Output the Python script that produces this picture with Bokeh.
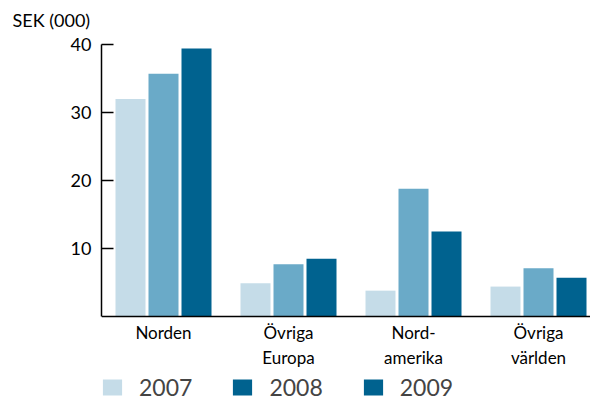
from bokeh.plotting import figure
from bokeh.models import (ColumnDataSource, Range1d, FixedTicker, Legend, LegendItem, Title)
from bokeh.embed import file_html
from bokeh.resources import INLINE

categories = ["Norden", "Övriga\nEuropa", "Nord-\namerika", "Övriga\nvärlden"]
years = ["2007", "2008", "2009"]
v2007 = [32.0, 4.9, 3.8, 4.4]
v2008 = [35.7, 7.7, 18.8, 7.1]
v2009 = [39.4, 8.5, 12.5, 5.7]
colors = ["#c5dce8", "#6aaac8", "#00628f"]
y_ticks = [10, 20, 30, 40]

FONT = "Lato"
groups = list(range(len(categories)))
offsets = [-0.264, 0.0, 0.264]

p = figure(frame_width=489, frame_height=357, output_backend="svg", toolbar_location=None,
           x_range=Range1d(-0.496, 3.416), y_range=Range1d(-12.5, 40),
           min_border_left=101, min_border_right=0, min_border_top=44, min_border_bottom=0)

renderers = []
for vals, off, col in zip([v2007, v2008, v2009], offsets, colors):
    src = ColumnDataSource(dict(x=[g + off for g in groups], top=vals))
    r = p.vbar(x="x", top="top", width=0.24, bottom=0, source=src,
               fill_color=col, line_color=None)
    renderers.append(r)

p.xgrid.visible = False
p.ygrid.visible = False
p.outline_line_color = None
p.background_fill_color = "white"

# y axis
ya = p.yaxis[0]
ya.ticker = FixedTicker(ticks=y_ticks)
ya.bounds = (0, 40)
ya.major_tick_in = 12
ya.major_tick_out = 0
ya.minor_tick_line_color = None
ya.axis_line_color = "black"
ya.axis_line_width = 1.5
ya.major_tick_line_width = 1.5
ya.major_label_text_font = FONT
ya.major_label_text_font_size = "18px"
ya.major_label_text_color = "black"
ya.major_label_standoff = 10

# x axis, drawn at y = 0
xa = p.xaxis[0]
xa.fixed_location = 0
xa.ticker = FixedTicker(ticks=groups)
xa.major_label_overrides = {g: c for g, c in zip(groups, categories)}
xa.major_tick_in = 0
xa.major_tick_out = 0
xa.minor_tick_line_color = None
xa.axis_line_color = "black"
xa.axis_line_width = 1.5
xa.major_label_text_font = FONT
xa.major_label_text_font_size = "17px"
xa.major_label_text_color = "black"
xa.major_label_standoff = 5

spacer = Title(text=" ", text_font_size="7px", standoff=0)
p.add_layout(spacer, "above")
t = Title(text="SEK (000)", align="left", offset=-89, text_font=FONT,
          text_font_size="18px", text_font_style="normal", text_color="black")
p.add_layout(t, "above")

legend = Legend(items=[LegendItem(label=years[0], renderers=[renderers[0]]),
                       LegendItem(label=years[1], renderers=[renderers[2]]),
                       LegendItem(label=years[2], renderers=[renderers[2]])],
                orientation="horizontal", location=(-1, 0))
legend.glyph_width = 24
legend.glyph_height = 20
legend.label_height = 20
legend.label_text_font = FONT
legend.label_text_font_size = "23px"
legend.label_standoff = 15
legend.spacing = 38
legend.padding = 0
legend.margin = 0
legend.border_line_color = None
legend.background_fill_alpha = 0
p.add_layout(legend, "center")

open("out.html", "w").write(file_html(p, INLINE))
